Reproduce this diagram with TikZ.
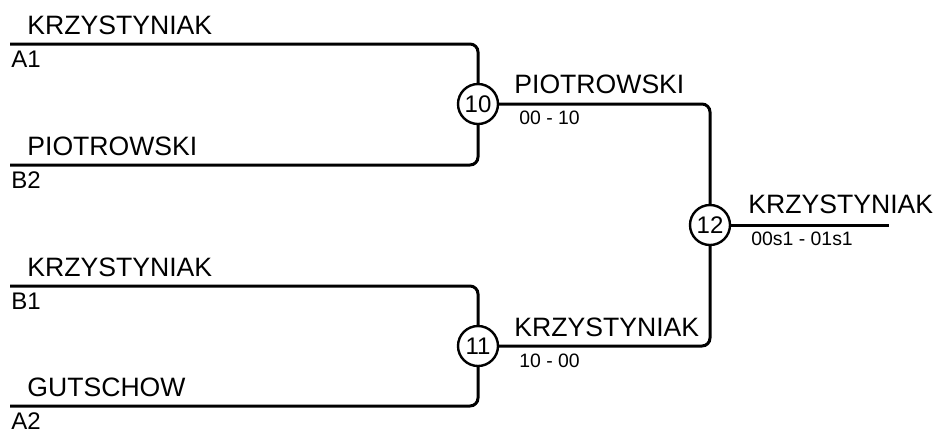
\documentclass[tikz,border=0pt]{standalone}
\usepackage{fontspec}
\setmainfont{Liberation Sans}
\tikzset{
  player/.style={anchor=base west,inner sep=0pt,font=\fontsize{13.3pt}{15pt}\selectfont},
  seed/.style={anchor=base west,inner sep=0pt,font=\fontsize{12pt}{14pt}\selectfont},
  score/.style={anchor=base west,inner sep=0pt,font=\fontsize{9.7pt}{11pt}\selectfont},
  match/.style={circle,draw,line width=1.2pt,minimum size=20pt,inner sep=0pt,fill=white,font=\fontsize{12pt}{14pt}\selectfont},
  bline/.style={line width=1.5pt,rounded corners=4pt}
}
\begin{document}
\begin{tikzpicture}[x=0.5pt,y=-0.5pt]
  \useasboundingbox (0,0) rectangle (937,430);
  % first round
  \coordinate (a1) at (10,44);
  \coordinate (b2) at (10,165);
  \coordinate (b1) at (10,286);
  \coordinate (a2) at (10,406);
  \coordinate (fin) at (889,225);

  \node[match] (m10) at (478,104) {10};
  \node[match] (m11) at (478,346) {11};
  \node[match] (m12) at (710,225) {12};

  \foreach \from/\to in {a1/m10,b2/m10,b1/m11,a2/m11,m10/m12,m11/m12}
    \draw[bline] (\from) -| (\to);
  \draw[bline] (m12) -- (fin);

  % names and seeds
  \node[player] (p1) at (27,34) {KRZYSTYNIAK};
  \node[seed] (s1) at (11,67) {A1};
  \node[player] (p2) at (27,155) {PIOTROWSKI};
  \node[seed] (s2) at (11,188) {B2};
  \node[player] (p3) at (27,276) {KRZYSTYNIAK};
  \node[seed] (s3) at (11,309) {B1};
  \node[player] (p4) at (27,396) {GUTSCHOW};
  \node[seed] (s4) at (11,429) {A2};

  % winners and scores
  \node[player] (w10) at (514,93) {PIOTROWSKI};
  \node[score] (r10) at (519,124) {00 - 10};
  \node[player] (w11) at (514,336) {KRZYSTYNIAK};
  \node[score] (r11) at (519,367) {10 - 00};
  \node[player] (w12) at (748,213) {KRZYSTYNIAK};
  \node[score] (r12) at (751,245) {00s1 - 01s1};
\end{tikzpicture}
\end{document}
